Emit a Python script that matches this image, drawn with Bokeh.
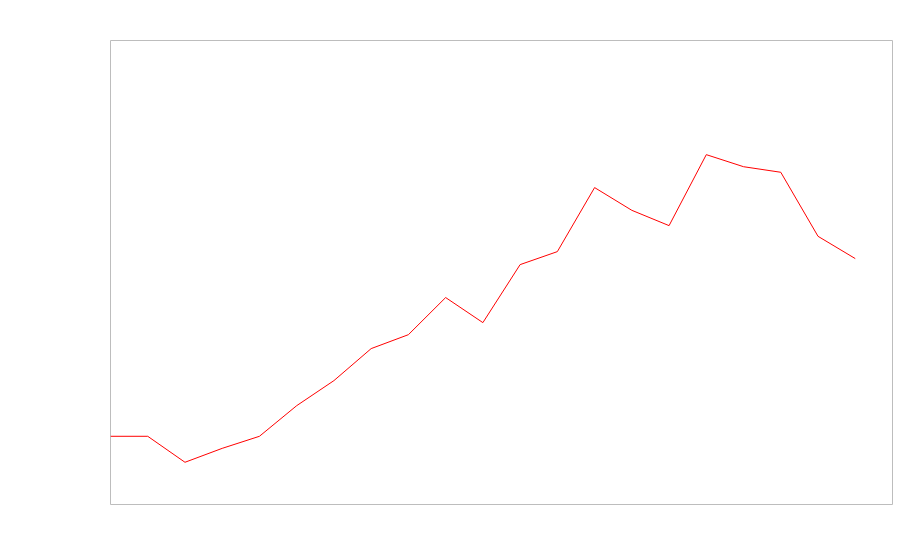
from bokeh.plotting import figure
from bokeh.models import Range1d
from bokeh.embed import file_html
from bokeh.resources import INLINE

# Data
x_index = list(range(21))
values = [14.7, 14.7, 9.1, 12.1, 14.7, 21.3, 26.7, 33.6, 36.6, 44.6, 39.2,
          51.7, 54.5, 68.3, 63.4, 60.1, 75.4, 72.8, 71.6, 57.8, 53.0]

p = figure(width=893, height=548, output_backend="svg", toolbar_location=None,
           x_range=Range1d(0, 21), y_range=Range1d(0, 100),
           min_border_left=110, min_border_right=1, min_border_top=40, min_border_bottom=44)
p.line(x_index, values, line_color="red", line_width=1)
p.xaxis.visible = False
p.yaxis.visible = False
p.xgrid.visible = False
p.ygrid.visible = False
p.outline_line_color = "#bdbdbd"
p.outline_line_width = 1
p.background_fill_color = "white"
p.border_fill_color = "white"

open("out.html", "w").write(file_html(p, INLINE))
